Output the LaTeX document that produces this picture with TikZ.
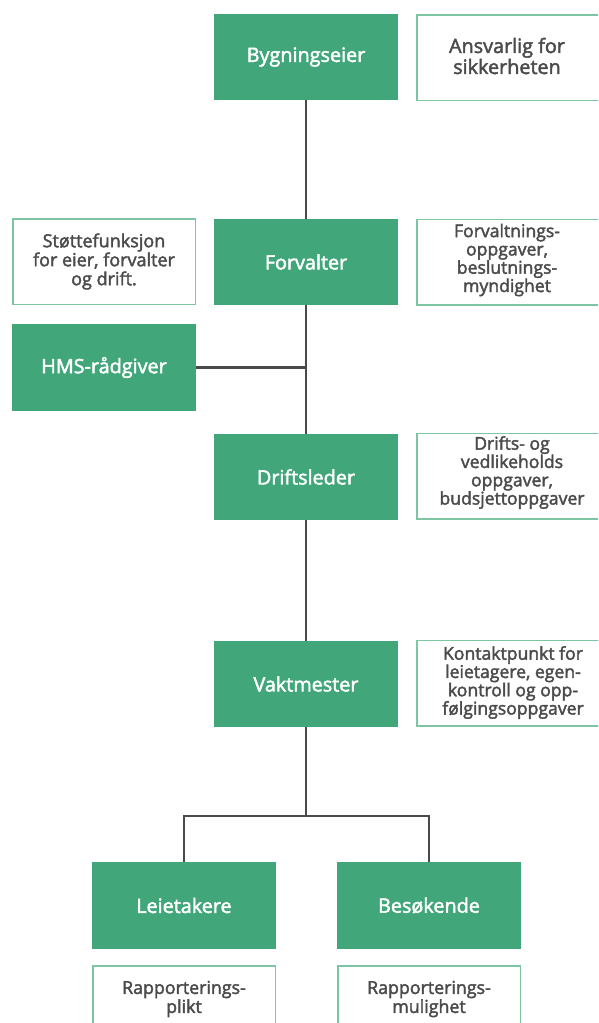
\documentclass[tikz,border=0pt]{standalone}
\usepackage{fontspec}
\setmainfont{Open Sans}[FakeBold=2.2]
\definecolor{grn}{HTML}{41A77B}
\definecolor{bord}{HTML}{7DC5A3}
\definecolor{txt}{HTML}{4B4B4D}
\definecolor{lin}{HTML}{4A4A4A}
\begin{document}
\begin{tikzpicture}[x=1pt,y=-1pt,
  gbox/.style={fill=grn, minimum width=184pt, minimum height=86.5pt, inner sep=0pt, text=white, font=\fontsize{19.8}{22}\selectfont},
  wbox/.style={draw=bord, line width=1.5pt, fill=white, minimum width=182.5pt, minimum height=85.5pt, inner sep=0pt},
  wtext/.style={text=txt, align=center, inner sep=0pt},
  bigt/.style={font=\fontsize{19.8}{21}\selectfont},
  rapt/.style={font=\fontsize{17.8}{19}\selectfont},
  midt/.style={font=\fontsize{18}{19}\selectfont},
  smt/.style={font=\fontsize{17.6}{18.3}\selectfont},
  conn/.style={draw=lin, line width=2.6pt}]
\useasboundingbox (0,0) rectangle (598,1023);
\clip (0,0) rectangle (598,1023);
\fill[white] (0,0) rectangle (598,1023);
% green boxes
\node[gbox] (byg) at (306,57) {Bygningseier};
\node[gbox] (forv) at (306,262) {Forvalter};
\node[gbox] (hms) at (104,367.5) {HMS-rådgiver};
\node[gbox] (drift) at (306,477) {Driftsleder};
\node[gbox] (vakt) at (306,684) {Vaktmester};
\node[gbox] (leie) at (184,905.5) {Leietakere};
\node[gbox] (bes) at (429,905.5) {Besøkende};
% white boxes
\node[wbox] (ansvb) at (508,57.5) {};
\node[wtext,bigt] (ansv) at (507,56) {Ansvarlig for\\sikkerheten};
\node[wbox] (stotb) at (104,261.5) {};
\node[wtext,midt] (stot) at (104,261.5) {Støttefunksjon\\for eier, forvalter\\og drift.};
\node[wbox] (fvtb) at (508,262) {};
\node[wtext,smt] (fvt) at (507,260) {Forvaltnings-\\oppgaver,\\beslutnings-\\myndighet};
\node[wbox] (drb) at (508,476) {};
\node[wtext,smt] (dr) at (512,472.5) {Drifts- og\\vedlikeholds\\oppgaver,\\budsjettoppgaver};
\node[wbox] (kob) at (508,683) {};
\node[wtext,smt] (ko) at (513,682.5) {Kontaktpunkt for\\leietagere, egen-\\kontroll og opp-\\følgingsoppgaver};
\node[wbox] (r1b) at (184,1008.5) {};
\node[wtext,rapt] (r1) at (184,999) {Rapporterings-\\plikt};
\node[wbox] (r2b) at (429,1008.5) {};
\node[wtext,rapt] (r2) at (429,999) {Rapporterings-\\mulighet};
% connectors
\coordinate (br) at (306,816);
\draw[conn] (byg.south) -- (forv.north);
\draw[conn] (forv.south) -- (drift.north);
\draw[conn] (hms.east) -- (hms.east -| forv.south);
\draw[conn] (drift.south) -- (vakt.north);
\draw[conn] (vakt.south) -- (br);
\draw[conn] (leie.north) |- (br) -| (bes.north);
\end{tikzpicture}
\end{document}
